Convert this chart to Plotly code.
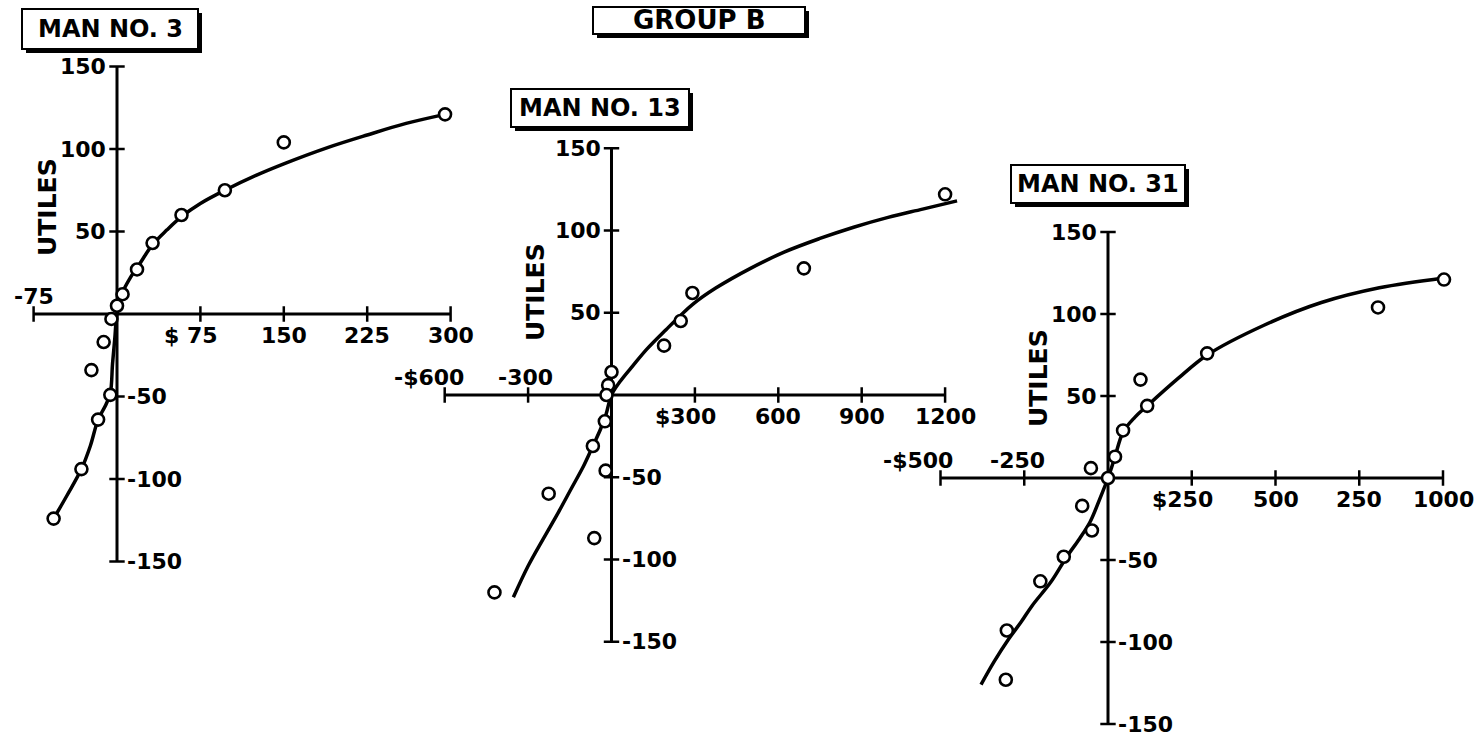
import plotly.graph_objects as go

W, H = 1482, 739

# ---------------- data ----------------
# Man No. 3
m3_x = [295, 150, 97, 58, 32, 18, 5, 0, -5, -12, -23, -6, -17, -32, -57]
m3_y = [121, 104, 75, 60, 43, 27, 12, 5, -3, -17, -34, -49, -64, -94, -124]
m3_curve_x = [-57, -45, -32, -24, -17, -10, -6, -4, -2, 0, 5, 12, 20, 32, 45, 58, 75, 97, 125, 150, 190, 225, 260, 295]
m3_curve_y = [-124, -110, -94, -80, -64, -55, -48, -30, -15, 0, 13, 22, 30, 42, 51, 59, 67, 75, 84, 91, 101, 108.5, 115.5, 121]
m3_xticks = [-75, 75, 150, 225, 300]
m3_xlabels = ["-75", "$ 75", "150", "225", "300"]

# Man No. 13
m13_x = [1200, 692, 291, 249, 189, 0, -12, -18, -24, -67, -21, -62, -226, -421]
m13_y = [122, 77, 62, 45, 30, 14, 6, 0, -16, -31, -46, -87, -60, -120]
m13_curve_x = [-353, -300, -244, -190, -145, -100, -67, -40, -20, 0, 30, 78, 128, 198, 249, 291, 375, 500, 623, 747, 871, 995, 1119, 1243]
m13_curve_y = [-123, -104, -87, -71, -57, -43, -31, -21, -12, 0, 8, 18, 28, 40, 48.5, 55, 65, 77, 87, 95, 102, 108, 113, 118]
m13_xticks = [-600, -300, 300, 600, 900, 1200]
m13_xlabels = ["-$600", "-300", "$300", "600", "900", "1200"]

# Man No. 31
m31_x = [1003, 806, 296, 97, 117, 45, 21, -51, 0, -77, -48, -132, -202, -302, -305]
m31_y = [121, 104, 76, 60, 44, 29, 13, 6, 0, -17, -32, -48, -63, -93, -123]
m31_curve_x = [-379, -340, -296, -260, -227, -169, -123, -85, -54, -25, 0, 10, 21, 45, 80, 117, 211, 296, 464, 637, 810, 1003]
m31_curve_y = [-126, -112, -98, -88, -78, -63, -48, -37, -27, -13, 0, 6, 13, 28, 37, 44, 61, 75, 93, 107, 116, 122]
m31_xticks = [-500, -250, 250, 500, 750, 1000]
m31_xlabels = ["-$500", "-250", "$250", "500", "250", "1000"]

y_ticks = [150, 100, 50, -50, -100, -150]
y_labels = ["150", "100", "50", "-50", "-100", "-150"]

titles = ["MAN NO. 3", "MAN NO. 13", "MAN NO. 31"]
group_title = "GROUP B"
axis_label = "UTILES"

# ---------------- layout geometry (pixels) ----------------
FONT = "DejaVu Sans"
INK = "black"
TICK_FONT = dict(family=FONT, size=22, color=INK, weight="bold")

panels = [
    dict(x=m3_x, y=m3_y, cx=m3_curve_x, cy=m3_curve_y, xt=m3_xticks, xl=m3_xlabels,
         ox=117, oy=314, sx=1.112, sy=1.65, xr=(-100, 320), yr=(-165, 165),
         xext=(-75, 300), box=(22, 9, 198, 49), utiles_px=(47, 207),
         negshift={"-75": 0}),
    dict(x=m13_x, y=m13_y, cx=m13_curve_x, cy=m13_curve_y, xt=m13_xticks, xl=m13_xlabels,
         ox=611.5, oy=395, sx=0.278, sy=1.645, xr=(-660, 1290), yr=(-165, 165),
         xext=(-600, 1200), box=(511, 89, 689, 127), utiles_px=(535, 292),
         negshift={"-$600": -16, "-300": -3}),
    dict(x=m31_x, y=m31_y, cx=m31_curve_x, cy=m31_curve_y, xt=m31_xticks, xl=m31_xlabels,
         ox=1108, oy=478, sx=0.335, sy=1.64, xr=(-560, 1110), yr=(-158, 160),
         xext=(-500, 1000), box=(1011, 165, 1185, 203), utiles_px=(1038, 378),
         negshift={"-$500": -22, "-250": -7}),
]
group_box = (593, 7, 805, 34)

fig = go.Figure()
layout_axes = {}
annotations = []
shapes = []


def title_box(box, text, size):
    x0, y0, x1, y1 = box
    # drop shadow
    shapes.append(dict(type="rect", xref="paper", yref="paper",
                       x0=(x0 + 4) / W, x1=(x1 + 4) / W,
                       y0=1 - (y1 + 4) / H, y1=1 - (y0 + 4) / H,
                       fillcolor=INK, line=dict(width=0), layer="above"))
    shapes.append(dict(type="rect", xref="paper", yref="paper",
                       x0=x0 / W, x1=x1 / W, y0=1 - y1 / H, y1=1 - y0 / H,
                       fillcolor="white", line=dict(color=INK, width=2), layer="above"))
    annotations.append(dict(x=(x0 + x1) / 2 / W, y=1 - (y0 + y1) / 2 / H,
                            xref="paper", yref="paper", text=text, showarrow=False,
                            xanchor="center", yanchor="middle",
                            font=dict(family=FONT, size=size, color=INK, weight="bold")))


for i, p in enumerate(panels, start=1):
    xa = "x" if i == 1 else f"x{i}"
    ya = "y" if i == 1 else f"y{i}"
    xkey = "xaxis" if i == 1 else f"xaxis{i}"
    ykey = "yaxis" if i == 1 else f"yaxis{i}"
    x0 = (p["ox"] + p["xr"][0] * p["sx"]) / W
    x1 = (p["ox"] + p["xr"][1] * p["sx"]) / W
    y0 = 1 - (p["oy"] - p["yr"][0] * p["sy"]) / H
    y1 = 1 - (p["oy"] - p["yr"][1] * p["sy"]) / H
    layout_axes[xkey] = dict(domain=[x0, x1], range=list(p["xr"]), visible=False,
                             anchor=ya, fixedrange=True)
    layout_axes[ykey] = dict(domain=[y0, y1], range=list(p["yr"]), visible=False,
                             anchor=xa, fixedrange=True)

    # axis lines
    fig.add_trace(go.Scatter(x=list(p["xext"]), y=[0, 0], mode="lines",
                             line=dict(color=INK, width=3), xaxis=xa, yaxis=ya,
                             hoverinfo="skip", showlegend=False))
    fig.add_trace(go.Scatter(x=[0, 0], y=[y_ticks[0], y_ticks[-1]], mode="lines",
                             line=dict(color=INK, width=3), xaxis=xa, yaxis=ya,
                             hoverinfo="skip", showlegend=False))
    # tick marks
    fig.add_trace(go.Scatter(x=p["xt"], y=[0] * len(p["xt"]), mode="markers",
                             marker=dict(symbol="line-ns", size=11,
                                         line=dict(color=INK, width=2.5)),
                             xaxis=xa, yaxis=ya, hoverinfo="skip", showlegend=False))
    fig.add_trace(go.Scatter(x=[0] * len(y_ticks), y=y_ticks, mode="markers",
                             marker=dict(symbol="line-ew", size=11,
                                         line=dict(color=INK, width=2.5)),
                             xaxis=xa, yaxis=ya, hoverinfo="skip", showlegend=False))
    # fitted curve
    fig.add_trace(go.Scatter(x=p["cx"], y=p["cy"], mode="lines",
                             line=dict(color=INK, width=3.5, shape="spline", smoothing=1.0),
                             xaxis=xa, yaxis=ya, hoverinfo="skip", showlegend=False))
    # observed points
    fig.add_trace(go.Scatter(x=p["x"], y=p["y"], mode="markers",
                             marker=dict(symbol="circle", size=12, color="white",
                                         line=dict(color=INK, width=2.6)),
                             xaxis=xa, yaxis=ya, cliponaxis=False, showlegend=False))

    # x tick labels
    for v, lab in zip(p["xt"], p["xl"]):
        neg = v < 0
        if neg:
            xs = p["negshift"].get(lab, 0)
        else:
            xs = -9 if lab.startswith("$") else 0
        annotations.append(dict(x=v, y=0, xref=xa, yref=ya, text=lab, showarrow=False,
                                xanchor="center", yanchor="bottom" if neg else "top",
                                yshift=3 if neg else -7, xshift=xs,
                                font=TICK_FONT))
    # y tick labels
    for v, lab in zip(y_ticks, y_labels):
        annotations.append(dict(x=0, y=v, xref=xa, yref=ya, text=lab, showarrow=False,
                                xanchor="right" if v > 0 else "left",
                                xshift=-9 if v > 0 else 8, yshift=0,
                                font=TICK_FONT))
    # UTILES
    ux, uy = p["utiles_px"]
    annotations.append(dict(x=ux / W, y=1 - uy / H, xref="paper", yref="paper",
                            text=axis_label, showarrow=False, textangle=-90,
                            xanchor="center", yanchor="middle",
                            font=dict(family=FONT, size=25, color=INK, weight="bold")))
    title_box(p["box"], titles[i - 1], 24)

title_box(group_box, group_title, 26)

fig.update_layout(
    width=W, height=H,
    margin=dict(l=0, r=0, t=0, b=0),
    paper_bgcolor="white",
    plot_bgcolor="rgba(0,0,0,0)",
    showlegend=False,
    annotations=annotations,
    shapes=shapes,
    **layout_axes,
)

fig.write_html("out.html", config={"displayModeBar": False},
               post_script="document.body.style.margin='0px';document.body.style.padding='0px';document.body.style.overflow='hidden';")
